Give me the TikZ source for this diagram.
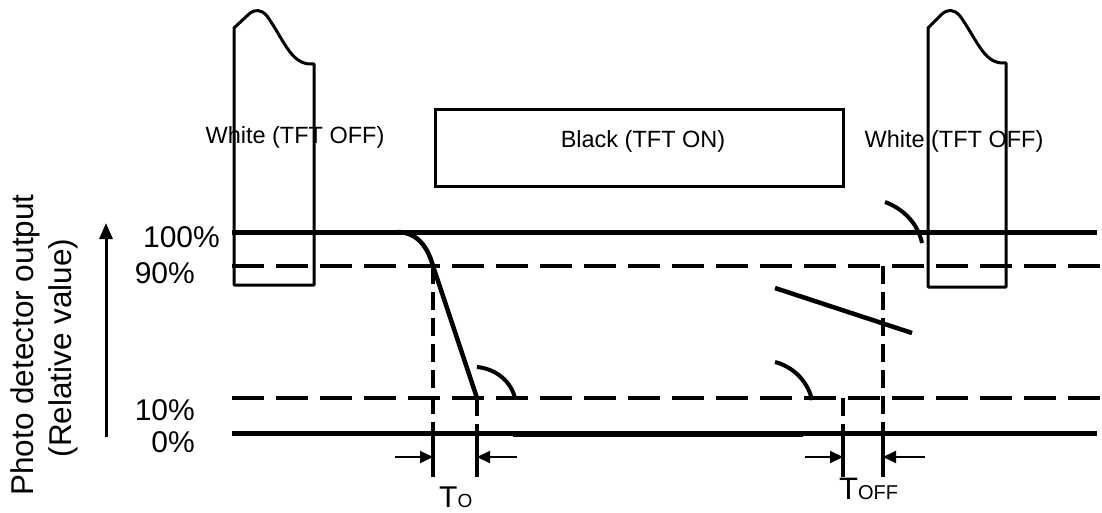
\documentclass[tikz,border=0pt]{standalone}
\usepackage{fontspec}
\setmainfont{Liberation Sans}
\usetikzlibrary{arrows.meta}
\begin{document}
\begin{tikzpicture}[x=1pt,y=-1pt,
  thickline/.style={line width=5pt},
  dashline/.style={line width=3.5pt, dash pattern=on 32pt off 12pt},
  vdash/.style={line width=3.5pt, dash pattern=on 18pt off 8pt},
  tab/.style={line width=3pt, line join=round},
  sig/.style={line width=4.5pt},
  arcline/.style={line width=4pt},
  dimline/.style={line width=3.5pt},
  dimarrow/.style={line width=2pt, -{Triangle[length=13pt,width=12pt]}},
  lbl/.style={font=\fontsize{23.5}{28}\selectfont, inner sep=0pt},
  pct/.style={font=\fontsize{30}{34}\selectfont, inner sep=0pt, anchor=east},
  axislbl/.style={font=\fontsize{31.5}{36}\selectfont, inner sep=0pt, rotate=90},
]
\fill[white] (0,0) rectangle (1102,513);
\useasboundingbox (0,0) rectangle (1102,513);

% level lines
\draw[thickline] (232,232) -- (1097,232);
\draw[dashline] (232,266) -- (1100,266);
\draw[dashline] (232,398) -- (1100,398);
\draw[thickline] (232,433) -- (1097,433);
\draw[line width=5.5pt] (513,434) -- (803,434);

% white tabs
\draw[tab] (234,285) -- (234,28) -- (249,14) .. controls (255,9) and (261,9) .. (267,16)
  .. controls (284,40) and (290,62) .. (309,64) -- (314,64) -- (314,285) -- cycle;
\draw[tab] (928,287) -- (928,28) -- (942,14) .. controls (948,9) and (954,9) .. (960,16)
  .. controls (977,40) and (983,61) .. (1001,63) -- (1006,63) -- (1006,287) -- cycle;

% black box
\node[draw, line width=3pt, minimum width=408pt, minimum height=77pt, inner sep=0pt] (black) at (639,148.5) {};

% labels
\node[lbl] (w1) at (295,137) {White (TFT OFF)};
\node[lbl] (bl) at (643,141) {Black (TFT ON)};
\node[lbl] (w2) at (954,141) {White (TFT OFF)};

% falling signal
\draw[sig] (397,232) .. controls (418,232) and (428,248) .. (433,266) -- (477,398);
\draw[arcline] (477,367) .. controls (497,369) and (511,382) .. (515,398);

% right signals
\draw[arcline] (885,202) .. controls (904,209) and (918,224) .. (922,243);
\draw[sig] (775,288) -- (912,333);
\draw[arcline] (775,362) .. controls (794,367) and (808,382) .. (812,400);

% timing verticals
\draw[vdash] (433,266) -- (433,433);
\draw[dimline] (433,433) -- (433,477);
\draw[vdash] (477,398) -- (477,433);
\draw[dimline] (477,433) -- (477,477);
\draw[vdash] (883,266) -- (883,433);
\draw[dimline] (883,433) -- (883,477);
\draw[vdash] (843,398) -- (843,433);
\draw[dimline] (843,433) -- (843,477);

% dimension arrows
\coordinate (a1) at (395,457); \coordinate (a2) at (433,457);
\coordinate (a3) at (517,457); \coordinate (a4) at (477,457);
\coordinate (b1) at (805,457); \coordinate (b2) at (843,457);
\coordinate (b3) at (925,457); \coordinate (b4) at (883,457);
\draw[dimarrow] (a1) -- (a2);
\draw[dimarrow] (a3) -- (a4);
\draw[dimarrow] (b1) -- (b2);
\draw[dimarrow] (b3) -- (b4);

\node[inner sep=0pt, anchor=base west] (to) at (439,507)
  {{\fontsize{30}{34}\selectfont T}{\fontsize{19}{22}\selectfont O}};
\node[inner sep=0pt, anchor=base west] (toff) at (839,499)
  {{\fontsize{31}{36}\selectfont T}{\fontsize{20}{24}\selectfont OFF}};

% percent labels
\node[pct] (p100) at (220,237) {100\%};
\node[pct] (p90) at (195,273) {90\%};
\node[pct] (p10) at (195,410) {10\%};
\node[pct] (p0) at (195,442) {0\%};

% y axis
\coordinate (ax0) at (106,437);
\coordinate (ax1) at (106,223);
\draw[line width=3pt, -{Triangle[length=16pt,width=13pt]}] (ax0) -- (ax1);
\node[axislbl] (yl1) at (25,345) {Photo detector output};
\node[axislbl] (yl2) at (63,348) {(Relative value)};
\end{tikzpicture}
\end{document}
